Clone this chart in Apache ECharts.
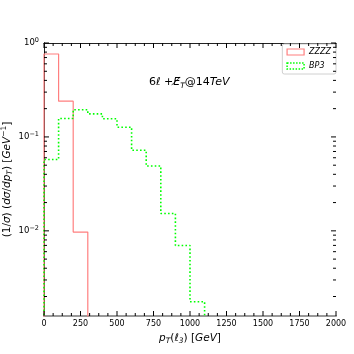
<!DOCTYPE html>
<html>
<head>
<meta charset="utf-8">
<script src="https://cdn.jsdelivr.net/npm/echarts@6/dist/echarts.min.js"></script>
<style>html,body{margin:0;padding:0;background:#fff;}#c{width:354px;height:354px;}</style>
</head>
<body>
<div id="c"></div>
<script>
// bin edges (GeV), width 100
const binEdges = [0,100,200,300,400,500,600,700,800,900,1000,1100,1200,1300,1400,1500,1600,1700,1800,1900,2000];
const zzzzValues = [0.764,0.24,0.0097,0,0,0,0,0,0,0,0,0,0,0,0,0,0,0,0,0];
const bp3Values  = [0.0574,0.157,0.195,0.176,0.156,0.127,0.072,0.049,0.0153,0.00698,0.00176,0,0,0,0,0,0,0,0,0];
const xTicks = [0,250,500,750,1000,1250,1500,1750,2000];
const xMinorTicks = [62.5,125,187.5,312.5,375,437.5,562.5,625,687.5,812.5,875,937.5,
                     1062.5,1125,1187.5,1312.5,1375,1437.5,1562.5,1625,1687.5,1812.5,1875,1937.5];
const yMajorTicks = [0.01,0.1,1];
const yMinorTicks = [0.002,0.003,0.004,0.005,0.006,0.007,0.008,0.009,
                     0.02,0.03,0.04,0.05,0.06,0.07,0.08,0.09,
                     0.2,0.3,0.4,0.5,0.6,0.7,0.8,0.9];
const yMin = 0.00124, yMax = 1;
const xMin = 0, xMax = 2000;
const FLOOR = 1e-5;

function stepData(vals){
  const d = [[binEdges[0], FLOOR]];
  for (let i = 0; i < vals.length; i++) d.push([binEdges[i], vals[i] > 0 ? vals[i] : FLOOR]);
  d.push([binEdges[binEdges.length-1], vals[vals.length-1] > 0 ? vals[vals.length-1] : FLOOR]);
  d.push([binEdges[binEdges.length-1], FLOOR]);
  return d;
}

const yTickItems = yMajorTicks.map(v => [xMin, v, 5]).concat(yMinorTicks.map(v => [xMin, v, 3]));

const chart = echarts.init(document.getElementById('c'), null, {renderer:'canvas'});
const F = 'DejaVu Sans';
const tickLabelRich = {
  b:{fontFamily:F, fontSize:8.5, color:'#000', lineHeight:12},
  s:{fontFamily:F, fontSize:6.5, color:'#000', verticalAlign:'top', lineHeight:6}
};
function tickStyle(){ return {stroke:'#000', lineWidth:1}; }
const titleGraphic = {
  type:'text', left:149, top:77,
  style:{
    text:'{n|6}{i|ℓ}{n| +}{i|E̸}{s|T}{n|@14}{i|TeV}',
    rich:{
      n:{fontFamily:F, fontSize:11, fill:'#000', lineHeight:15},
      i:{fontFamily:F, fontSize:11, fontStyle:'italic', fill:'#000', lineHeight:15},
      s:{fontFamily:F, fontSize:7.5, fontStyle:'italic', fill:'#000', lineHeight:7, verticalAlign:'bottom'}
    }
  }
};
chart.setOption({
  animation:false,
  backgroundColor:'#fff',
  grid:{left:44, right:18, top:43, bottom:38, containLabel:false, outerBoundsMode:'none'},
  legend:{
    right:18, top:44, orient:'vertical',
    itemWidth:17, itemHeight:6, itemGap:6,
    backgroundColor:'#fff', borderColor:'#d0d0d0', borderWidth:1, borderRadius:2,
    padding:[4,5,4,4],
    textStyle:{fontFamily:F, fontSize:8, fontStyle:'italic', color:'#000'},
    data:[
      {name:'ZZZZ', icon:'rect', itemStyle:{color:'rgba(0,0,0,0)', borderColor:'#ff7f7f', borderWidth:1.2}},
      {name:'BP3', icon:'rect', itemStyle:{color:'rgba(0,0,0,0)', borderColor:'#00ff00', borderWidth:1.5, borderType:'dotted'}}
    ]
  },
  xAxis:[
    {
      type:'value', min:xMin, max:xMax, interval:250, position:'bottom',
      splitLine:{show:false}, axisTick:{show:false},
      axisLine:{show:true, lineStyle:{color:'#999', width:2}},
      axisLabel:{fontFamily:F, fontSize:8, color:'#000', margin:4,
        formatter:v => xTicks.indexOf(v) >= 0 ? String(v) : ''},
      name:'{i|p}{s|T}{n|(}{i|ℓ}{s|3}{n|) [}{i|GeV}{n|]}',
      nameLocation:'middle', nameGap:15, nameMoveOverlap:false,
      nameTextStyle:{rich:{
        i:{fontFamily:F, fontSize:10.5, fontStyle:'italic', color:'#000', lineHeight:14},
        n:{fontFamily:F, fontSize:10.5, color:'#000', lineHeight:14},
        s:{fontFamily:F, fontSize:7.5, fontStyle:'italic', color:'#000', lineHeight:6, verticalAlign:'bottom'}
      }}
    },
    {
      type:'value', min:xMin, max:xMax, interval:250, position:'top',
      splitLine:{show:false}, axisTick:{show:false},
      axisLine:{show:true, lineStyle:{color:'#222', width:1}},
      axisLabel:{show:false}
    }
  ],
  yAxis:[
    {
      type:'log', logBase:10, min:yMin, max:yMax, position:'left',
      splitLine:{show:false}, axisTick:{show:false},
      axisLine:{show:true, lineStyle:{color:'#222', width:1}},
      axisLabel:{margin:5, rich:tickLabelRich, showMinLabel:true,
        formatter:function(v){
          const e = Math.log10(v);
          if (Math.abs(e - Math.round(e)) > 1e-6) return '';
          return '{b|10}{s|' + (Math.round(e) === 0 ? '0' : '−' + Math.abs(Math.round(e))) + '}';
        }},
      name:'{n|(1/}{i|σ}{n|) (}{i|dσ}{n|/}{i|dp}{s|T}{n|) [}{i|GeV}{p|−1}{n|]}',
      nameLocation:'middle', nameGap:30, nameRotate:90, nameMoveOverlap:false,
      nameTextStyle:{rich:{
        i:{fontFamily:F, fontSize:10.5, fontStyle:'italic', color:'#000', lineHeight:14},
        n:{fontFamily:F, fontSize:10.5, color:'#000', lineHeight:14},
        s:{fontFamily:F, fontSize:7.5, fontStyle:'italic', color:'#000', lineHeight:6, verticalAlign:'bottom'},
        p:{fontFamily:F, fontSize:7.5, color:'#000', lineHeight:6, verticalAlign:'top'}
      }}
    },
    {
      type:'log', logBase:10, min:yMin, max:yMax, position:'right',
      splitLine:{show:false}, axisTick:{show:false},
      axisLine:{show:true, lineStyle:{color:'#222', width:1}},
      axisLabel:{show:false}
    }
  ],
  graphic:[titleGraphic],
  series:[
    {name:'ZZZZ', type:'line', step:'end', data:stepData(zzzzValues), showSymbol:false, symbol:'none',
     xAxisIndex:0, yAxisIndex:0, clip:true,
     lineStyle:{color:'#ff7f7f', width:1.2}, itemStyle:{color:'#ff7f7f'}, z:3},
    {name:'BP3', type:'line', step:'end', data:stepData(bp3Values), showSymbol:false, symbol:'none',
     xAxisIndex:0, yAxisIndex:0, clip:true,
     lineStyle:{color:'#00ff00', width:1.6, type:[1.6,2.2]}, itemStyle:{color:'#00ff00'}, z:4},
    {name:'yticks', type:'custom', xAxisIndex:0, yAxisIndex:0, silent:true, z:6, clip:false,
     data:yTickItems, encode:{x:0, y:1},
     renderItem:function(params, api){
       const v = api.value(1), len = api.value(2);
       const pL = api.coord([xMin, v]);
       const pR = api.coord([xMax, v]);
       return {type:'group', children:[
         {type:'line', shape:{x1:pL[0], y1:pL[1], x2:pL[0]+len, y2:pL[1]}, style:tickStyle()},
         {type:'line', shape:{x1:pR[0], y1:pR[1], x2:pR[0]-len, y2:pR[1]}, style:tickStyle()}
       ]};
     }}
  ]
});

// x-axis tick marks (bottom and top, pointing inward), positioned through the axis scales
const yBottom = chart.convertToPixel({yAxisIndex:0}, yMin);
const yTop = chart.convertToPixel({yAxisIndex:0}, yMax);
const xTickGraphics = [];
xTicks.map(v => [v, 5]).concat(xMinorTicks.map(v => [v, 3])).forEach(function(t){
  const px = chart.convertToPixel({xAxisIndex:0}, t[0]);
  xTickGraphics.push({type:'line', z:100, silent:true,
    shape:{x1:px, y1:yBottom, x2:px, y2:yBottom - t[1]}, style:tickStyle()});
  xTickGraphics.push({type:'line', z:100, silent:true,
    shape:{x1:px, y1:yTop, x2:px, y2:yTop + t[1]}, style:tickStyle()});
});
chart.setOption({graphic:[titleGraphic].concat(xTickGraphics)}, {replaceMerge:['graphic']});
</script>
</body>
</html>
